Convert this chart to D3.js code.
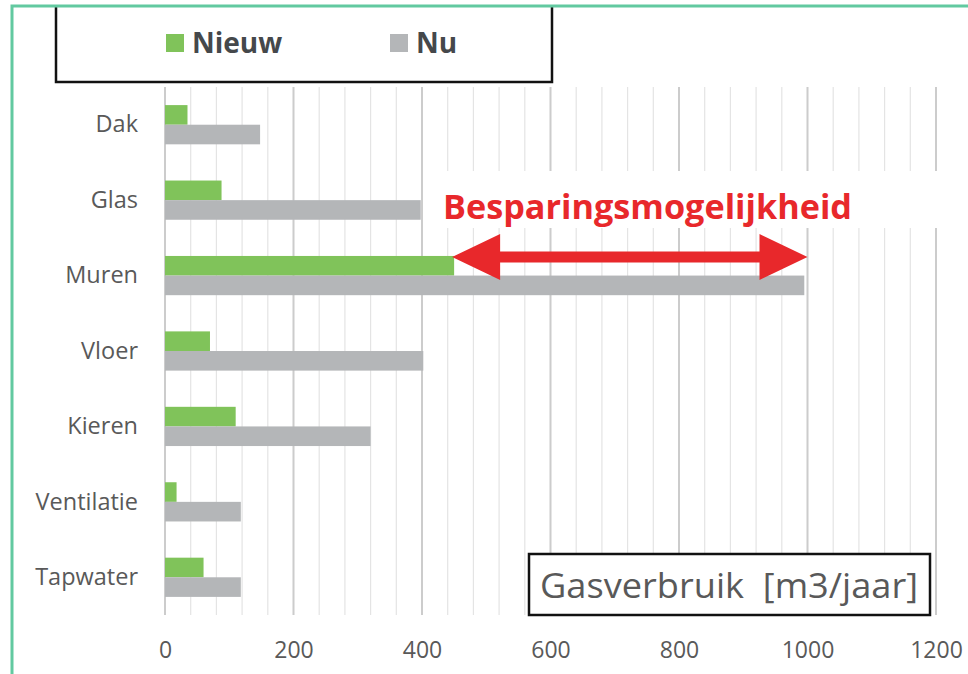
<!DOCTYPE html>
<html><head><meta charset="utf-8">
<script src="https://cdn.jsdelivr.net/npm/d3@7"></script>
<style>html,body{margin:0;padding:0;background:#fff;}svg{display:block;}</style>
</head><body>
<script>
const categories = ["Dak","Glas","Muren","Vloer","Kieren","Ventilatie","Tapwater"];
const seriesNames = ["Nieuw","Nu"];
const nieuw = [35, 88, 450, 70, 110, 18, 60];
const nu = [148, 398, 995, 402, 320, 118, 118];
const xTicks = [0,200,400,600,800,1000,1200];
const minorStep = 40;
const annotation = "Besparingsmogelijkheid";
const arrowFrom = 450, arrowTo = 1000;
const axisTitle = "Gasverbruik  [m3/jaar]";
const colors = {Nieuw:"#80c35a", Nu:"#b4b6b8"};

const W=968,H=674;
const svg=d3.select("body").append("svg").attr("width",W).attr("height",H);
const x=d3.scaleLinear().domain([0,1200]).range([165,936]);
const y=d3.scaleBand().domain(categories).range([87,615]).paddingInner(0.48).paddingOuter(0.24);
const ys=d3.scaleBand().domain(seriesNames).range([0,y.bandwidth()]);

// gridlines
const minor=d3.range(0,1201,minorStep).filter(v=>v%200!==0);
svg.append("g").selectAll("line").data(minor).join("line")
 .attr("x1",d=>x(d)).attr("x2",d=>x(d)).attr("y1",87).attr("y2",615)
 .attr("stroke","#e4e4e4").attr("stroke-width",1.2);
svg.append("g").selectAll("line").data(xTicks).join("line")
 .attr("x1",d=>x(d)).attr("x2",d=>x(d)).attr("y1",87).attr("y2",615)
 .attr("stroke","#cccccc").attr("stroke-width",2);

// bars
const g=svg.append("g");
const rows=categories.map((c,i)=>({c,vals:[{s:"Nieuw",v:nieuw[i]},{s:"Nu",v:nu[i]}]}));
g.selectAll("g").data(rows).join("g").attr("transform",d=>`translate(0,${y(d.c)})`)
 .selectAll("rect").data(d=>d.vals).join("rect")
 .attr("x",x(0)).attr("y",d=>ys(d.s)).attr("height",ys.bandwidth())
 .attr("width",d=>x(d.v)-x(0)).attr("fill",d=>colors[d.s]);

// category labels
const yAxis=d3.axisLeft(y).tickSize(0).tickPadding(0);
const ya=svg.append("g").attr("transform","translate(138,0)").call(yAxis);
ya.select(".domain").remove();
ya.selectAll("text").attr("font-family","Open Sans").attr("font-size",23.5).attr("fill","#595959").attr("dy","0.33em");

// x tick labels
const xAxis=d3.axisBottom(x).tickValues(xTicks).tickSize(0).tickPadding(0).tickFormat(d3.format("d"));
const xa=svg.append("g").attr("transform","translate(0,658)").call(xAxis);
xa.select(".domain").remove();
xa.selectAll("text").attr("font-family","Open Sans").attr("font-size",23).attr("fill","#595959").attr("dy","0");

// annotation white box
svg.append("rect").attr("x",x(400)+1.5).attr("y",171).attr("width",520).attr("height",57).attr("fill","#fff");
svg.append("text").attr("x",443).attr("y",219).text(annotation)
 .attr("font-family","Open Sans").attr("font-weight","bold").attr("font-size",34)
 .attr("fill","#e8282b").attr("textLength",409).attr("lengthAdjust","spacingAndGlyphs");

// arrow
const ay=257, x1=x(arrowFrom)-2, x2=x(arrowTo);
const hl=48, hh=23, sh=5.5;
const pts=[[x1,ay],[x1+hl,ay-hh],[x1+hl,ay-sh],[x2-hl,ay-sh],[x2-hl,ay-hh],[x2,ay],[x2-hl,ay+hh],[x2-hl,ay+sh],[x1+hl,ay+sh],[x1+hl,ay+hh]];
svg.append("path").attr("d",d3.line()(pts)+"Z").attr("fill","#e8282b");

// axis title box
svg.append("rect").attr("x",529).attr("y",554).attr("width",401).attr("height",61)
 .attr("fill","#fff").attr("stroke","#111").attr("stroke-width",2.5);
svg.append("text").attr("x",540).attr("y",598).text(axisTitle)
 .attr("font-family","Open Sans").attr("font-size",34).attr("fill","#595959")
 .attr("textLength",378).attr("lengthAdjust","spacingAndGlyphs").style("white-space","pre");

// legend box
svg.append("path").attr("d","M56,5 V82 H552 V5").attr("fill","none").attr("stroke","#111").attr("stroke-width",2.5);
const leg=[{s:"Nieuw",x:166},{s:"Nu",x:390}];
leg.forEach(l=>{
 svg.append("rect").attr("x",l.x).attr("y",34).attr("width",18).attr("height",18).attr("fill",colors[l.s]);
 svg.append("text").attr("x",l.x+26).attr("y",53).text(l.s)
  .attr("font-family","Open Sans").attr("font-weight","bold").attr("font-size",28).attr("fill","#45484b");
});

// teal frame
svg.append("path").attr("d","M12,674 V6 H968").attr("fill","none").attr("stroke","#62c9a0").attr("stroke-width",3);
</script>
</body></html>
